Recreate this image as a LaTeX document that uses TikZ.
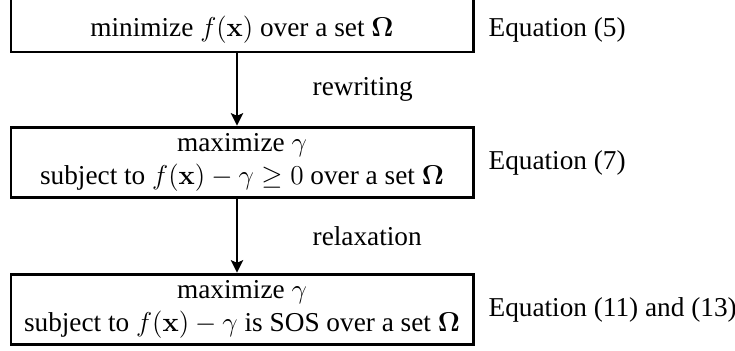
\documentclass[tikz,border=0pt,12pt]{standalone}
\usepackage{amsmath,amssymb}
\usepackage[no-math]{fontspec}
\setmainfont{Liberation Serif}
\usetikzlibrary{arrows.meta,positioning}
\tikzset{
  >={Stealth[length=5.5pt,width=5.5pt,inset=1.2pt]},
}
\begin{document}
\begin{tikzpicture}[x=0.44pt,y=-0.44pt,
  box/.style={draw,line width=1.3pt,minimum width=203.3pt,minimum height=31.2pt,inner ysep=1pt,align=center},
  lk/.style={->,line width=0.6pt},
  note/.style={inner sep=4pt}]
  \useasboundingbox (0,0) rectangle (735,351);
  \node[box,anchor=base,minimum height=0pt,text height=21.6pt,text depth=6.6pt,inner ysep=0pt] (min) at (242,37) {minimize $f(\mathbf{x})$ over a set $\mathbf{\Omega}$};
  \node[box] (max) at (242,162.5) {maximize $\gamma$\\subject to $f(\mathbf{x})-\gamma\geq 0$ over a set $\mathbf{\Omega}$};
  \node[box] (sos) at (242,309.5) {maximize $\gamma$\\subject to $f(\mathbf{x})-\gamma$ is SOS over a set $\mathbf{\Omega}$};
  \draw[lk] ([xshift=-2.2pt]min.south) -- ([xshift=-2.2pt]max.north) node[note,midway,right=29pt] (rw) {rewriting};
  \draw[lk] ([xshift=-2.2pt]max.south) -- ([xshift=-2.2pt]sos.north) node[note,midway,right=29pt] (rl) {relaxation};
  \node[note,base right=2pt of min] (eq5) {Equation (5)};
  \node[note,right=2pt of max] (eq7) {Equation (7)};
  \node[note,right=2pt of sos] (eq11) {Equation (11) and (13)};
\end{tikzpicture}
\end{document}
